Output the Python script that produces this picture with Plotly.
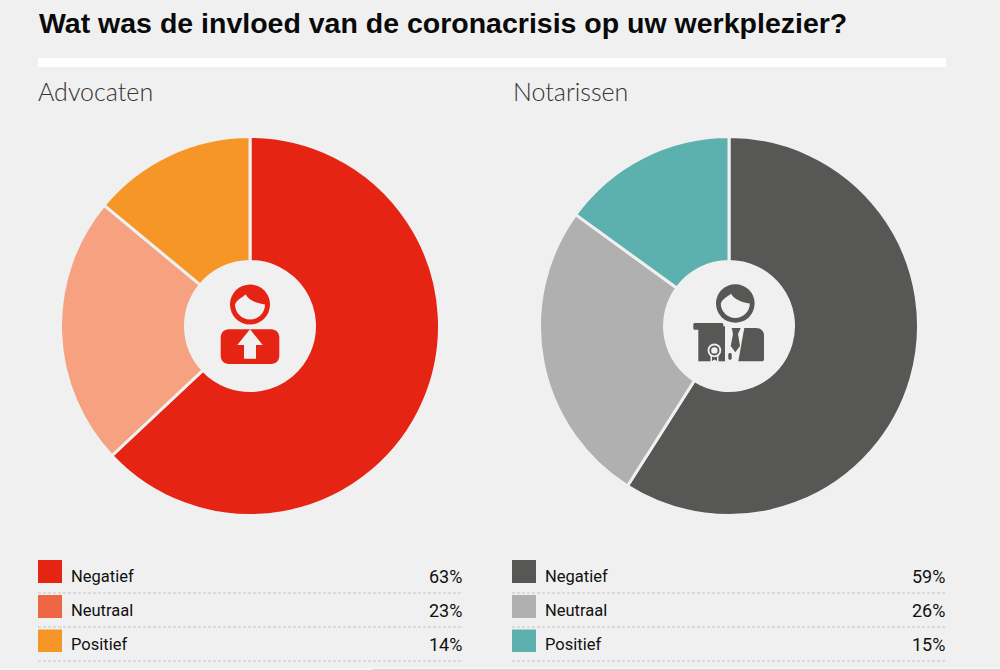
import plotly.graph_objects as go

W, H = 1000, 670
BG = "#F0F0F0"
title = "Wat was de invloed van de coronacrisis op uw werkplezier?"
groups = ["Advocaten", "Notarissen"]
categories = ["Negatief", "Neutraal", "Positief"]
advocaten = [63, 23, 14]
notarissen = [59, 26, 15]
adv_colors = ["#E62413", "#F6A17F", "#F59627"]
not_colors = ["#575756", "#B0B0B0", "#5CB1AF"]
adv_legend = ["#E62413", "#EF6645", "#F59627"]
not_legend = ["#575756", "#B0B0B0", "#5CB1AF"]


def X(p):
    return p / W


def Y(p):
    return 1 - p / H


def path(points):
    """Build an SVG path in paper coordinates from pixel command tuples."""
    out = []
    for cmd in points:
        c, nums = cmd[0], cmd[1:]
        pairs = [f"{X(nums[i]):.5f},{Y(nums[i + 1]):.5f}" for i in range(0, len(nums), 2)]
        out.append(c + " ".join(pairs))
    return " ".join(out)


shapes = []
ann = []


def poly(cmds, color):
    shapes.append(dict(type="path", xref="paper", yref="paper", path=path(cmds),
                       fillcolor=color, line=dict(width=0), layer="above"))


def rect(x0, y0, x1, y1, color):
    shapes.append(dict(type="rect", xref="paper", yref="paper", x0=X(x0), x1=X(x1), y0=Y(y0), y1=Y(y1),
                       fillcolor=color, line=dict(width=0), layer="above"))


def circle(cx, cy, r, color):
    shapes.append(dict(type="circle", xref="paper", yref="paper", x0=X(cx - r), x1=X(cx + r),
                       y0=Y(cy - r), y1=Y(cy + r), fillcolor=color, line=dict(width=0), layer="above"))


def rrect(x0, y0, x1, y1, r, color):
    k = r * 0.45
    poly([("M", x0 + r, y0), ("L", x1 - r, y0), ("C", x1 - k, y0, x1, y0 + k, x1, y0 + r),
          ("L", x1, y1 - r), ("C", x1, y1 - k, x1 - k, y1, x1 - r, y1),
          ("L", x0 + r, y1), ("C", x0 + k, y1, x0, y1 - k, x0, y1 - r),
          ("L", x0, y0 + r), ("C", x0, y0 + k, x0 + k, y0, x0 + r, y0), ("Z",)], color)


def text(x, y, s, size, color, anchor="left", family="Roboto", weight=None):
    ann.append(dict(x=X(x), y=Y(y), xref="paper", yref="paper", text=s, showarrow=False,
                    xanchor=anchor, yanchor="middle", align=anchor,
                    font=dict(size=size, color=color, family=family, weight=weight)))


def head(cx, cy, r, ri, color):
    """Dark disc with a light face cut in it; the face outline leaves a swept fringe."""
    circle(cx, cy, r, color)
    s = ri / 15
    px = lambda dx: cx + dx * s
    py = lambda dy: cy + dy * s
    poly([("M", px(-15), py(0)),
          ("C", px(-13), py(-5), px(-8), py(-7), px(-4.3), py(-10)),
          ("C", px(-2), py(-5), px(6), py(-1), px(15), py(0)),
          ("C", px(15), py(8.3), px(8.3), py(15), px(0), py(15)),
          ("C", px(-8.3), py(15), px(-15), py(8.3), px(-15), py(0)), ("Z",)], BG)


# page furniture
rect(38, 58, 946, 67, "#FFFFFF")
rect(0, 668, 1000, 670, "#F7F7F7")
rect(372, 669, 1000, 670, "#D6D6D6")
text(36.5, 23, title, 28.5, "#0A0A0A", family="Liberation Sans", weight="bold")
text(36, 91, groups[0], 25, "#333333", family="Lato", weight=300)
text(511, 91, groups[1], 25, "#333333", family="Lato", weight=300)

# legends
rows = [(560, 583, 576, 593), (595, 618, 610, 627), (629.5, 652, 644, 661)]
for x0, x1, vals, cols in [(38, 463, advocaten, adv_legend), (512, 946, notarissen, not_legend)]:
    for (sy0, sy1, ty, ly), cat, v, c in zip(rows, categories, vals, cols):
        rect(x0, sy0, x0 + 24, sy1, c)
        text(x0 + 31, ty, cat, 16.5, "#111111")
        text(x1 + 1, ty, f"{v}%", 18, "#111111", anchor="right")
        shapes.append(dict(type="line", xref="paper", yref="paper", x0=X(x0), x1=X(x1), y0=Y(ly), y1=Y(ly),
                           line=dict(color="#C4C4C4", width=1, dash="3px,2px")))

# lawyer icon
R = "#E62413"
head(250, 304.5, 20, 15, R)
rrect(220.7, 329.3, 279.3, 364, 8, R)
poly([("M", 250, 329.3), ("L", 262.7, 345), ("L", 256, 345), ("L", 256, 358.7), ("L", 244, 358.7),
      ("L", 244, 345), ("L", 237.3, 345), ("Z",)], BG)

# notary icon
D = "#575756"
head(735.3, 303.5, 19.3, 14.5, D)
# jacket
poly([("M", 744.3, 328), ("L", 756, 328), ("C", 761, 328, 764, 331, 764, 336), ("L", 764, 359),
      ("C", 764, 360.5, 763, 361.3, 762, 361.3), ("L", 738.3, 361.3), ("Z",)], D)
# certificate and its top bar
rect(698.3, 329, 725, 361.3, D)
rect(721, 326.3, 725, 329, D)
rrect(693.3, 323, 723.3, 329.7, 1.5, D)
# lapel sliver
rrect(728.3, 353, 731.7, 359.7, 1.5, D)
# tie
poly([("M", 731.7, 328), ("L", 740.7, 328), ("L", 738, 334), ("L", 740, 346), ("L", 735.3, 352.3),
      ("L", 730.7, 346), ("L", 733, 334), ("Z",)], D)
# seal
poly([("M", 710.5, 352), ("L", 718.5, 352), ("L", 718.5, 364.5), ("L", 714.5, 362), ("L", 710.5, 364.5), ("Z",)], BG)
poly([("M", 712, 355), ("L", 717, 355), ("L", 717, 361), ("L", 714.5, 359.5), ("L", 712, 361), ("Z",)], D)
circle(714.4, 350.4, 6.8, BG)
circle(714.4, 350.4, 5, D)
circle(714.4, 350.4, 3.2, BG)


def dom(cx, cy, r):
    return dict(x=[X(cx - r), X(cx + r)], y=[Y(cy + r), Y(cy - r)])


def pie(vals, colors, cx, name):
    return go.Pie(labels=categories, values=vals, name=name, sort=False, direction="clockwise", rotation=0,
                  hole=64.5 / 189.5, textinfo="none", showlegend=False, domain=dom(cx, 326, 189.5),
                  marker=dict(colors=colors, line=dict(color=BG, width=3)))


fig = go.Figure([pie(advocaten, adv_colors, 250, groups[0]), pie(notarissen, not_colors, 729, groups[1])])
fig.update_layout(width=W, height=H, margin=dict(l=0, r=0, t=0, b=0), paper_bgcolor=BG, plot_bgcolor=BG,
                  shapes=shapes, annotations=ann)
fig.write_html("out.html", config=dict(displayModeBar=False),
               post_script="document.body.style.margin='0';document.body.style.background='#F0F0F0';")
